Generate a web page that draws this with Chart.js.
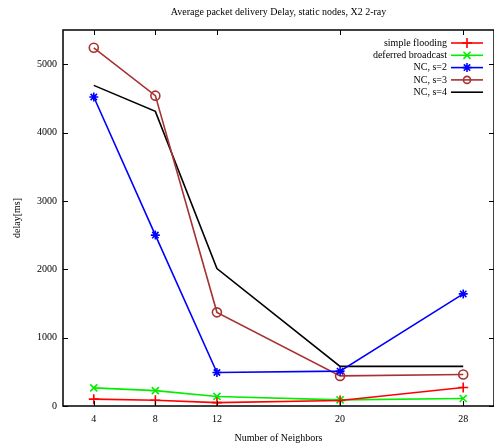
<!DOCTYPE html>
<html>
<head>
<meta charset="utf-8">
<script src="https://cdn.jsdelivr.net/npm/chart.js@4/dist/chart.umd.min.js"></script>
<style>
    html, body { margin: 0; padding: 0; background: #fff; }
    #wrap { width: 494px; height: 448px; }
</style>
</head>
<body>
<div id="wrap"><canvas id="delayChart" width="494" height="448"></canvas></div>
<script>
const neighbors = [4, 8, 12, 20, 28];
const xTicks = [4, 8, 12, 20, 28];
const yTicks = [0, 1000, 2000, 3000, 4000, 5000];

const simpleFlooding = [100, 85, 50, 80, 270];
const deferredBroadcast = [265, 225, 140, 90, 110];
const ncS2 = [4520, 2500, 490, 510, 1640];
const ncS3 = [5240, 4540, 1370, 440, 460];
const ncS4 = [4690, 4310, 2010, 580, 580];

const TITLE = 'Average packet delivery Delay, static nodes, X2 2-ray';
const FONT = "'Liberation Serif', 'DejaVu Serif', serif";

function pts(values) {
    return neighbors.map((x, i) => ({ x, y: values[i] }));
}

function series(label, values, color, pointStyle, radius) {
    return {
        label,
        data: pts(values),
        borderColor: color,
        backgroundColor: color,
        borderWidth: 1.6,
        pointStyle: pointStyle || false,
        pointRadius: radius || 0,
        pointBorderWidth: 1.6,
        pointBackgroundColor: 'rgba(0,0,0,0)',
        tension: 0
    };
}

// gnuplot-like frame with inward ticks on all four sides, title centred on the plot
const frameTicks = {
    id: 'frameTicks',
    afterDraw(chart) {
        const { ctx, chartArea: a, scales } = chart;
        ctx.save();
        ctx.fillStyle = '#000';
        ctx.font = '10px ' + FONT;
        ctx.textAlign = 'center';
        ctx.textBaseline = 'middle';
        ctx.fillText(TITLE, (a.left + a.right) / 2, 12);

        ctx.strokeStyle = '#000';
        ctx.lineWidth = 1.5;
        ctx.strokeRect(a.left, a.top, a.right - a.left, a.bottom - a.top);
        ctx.lineWidth = 1;
        const len = 5;
        ctx.beginPath();
        yTicks.forEach(v => {
            const y = Math.round(scales.y.getPixelForValue(v)) + 0.5;
            ctx.moveTo(a.left, y); ctx.lineTo(a.left + len, y);
            ctx.moveTo(a.right, y); ctx.lineTo(a.right - len, y);
        });
        xTicks.forEach(v => {
            const x = Math.round(scales.x.getPixelForValue(v)) + 0.5;
            ctx.moveTo(x, a.bottom); ctx.lineTo(x, a.bottom - len);
            ctx.moveTo(x, a.top); ctx.lineTo(x, a.top + len);
        });
        ctx.stroke();
        ctx.restore();
    }
};

// key drawn inside the top-right corner, text to the left of the sample
const insideKey = {
    id: 'insideKey',
    afterDraw(chart) {
        const { ctx } = chart;
        const textRight = 447;
        const lineL = 451, lineR = 483;
        const y0 = 43, dy = 12.3;
        ctx.save();
        ctx.font = '10px ' + FONT;
        ctx.textAlign = 'right';
        ctx.textBaseline = 'middle';
        chart.data.datasets.forEach((ds, i) => {
            const y = y0 + i * dy;
            ctx.fillStyle = '#000';
            ctx.fillText(ds.label, textRight, y);
            ctx.strokeStyle = ds.borderColor;
            ctx.lineWidth = ds.borderWidth;
            ctx.beginPath();
            ctx.moveTo(lineL, y); ctx.lineTo(lineR, y);
            ctx.stroke();
            if (ds.pointStyle) {
                ctx.fillStyle = 'rgba(0,0,0,0)';
                Chart.helpers.drawPoint(ctx, {
                    pointStyle: ds.pointStyle,
                    radius: ds.pointStyle === 'circle' ? 3.5 : ds.pointRadius,
                    borderWidth: ds.pointBorderWidth,
                    rotation: 0
                }, (lineL + lineR) / 2, y);
            }
        });
        ctx.restore();
    }
};

new Chart(document.getElementById('delayChart').getContext('2d'), {
    type: 'line',
    data: {
        datasets: [
            series('simple flooding', simpleFlooding, '#ff0000', 'cross', 5),
            series('deferred broadcast', deferredBroadcast, '#00ee00', 'crossRot', 5),
            series('NC, s=2', ncS2, '#0000ff', 'star', 4.5),
            series('NC, s=3', ncS3, '#a83232', 'circle', 4.5),
            series('NC, s=4', ncS4, '#000000', false, 0)
        ]
    },
    options: {
        responsive: false,
        animation: false,
        layout: { autoPadding: false, padding: { left: 4, right: 0, top: 30, bottom: 4 } },
        plugins: {
            legend: { display: false },
            tooltip: { enabled: false },
            title: { display: false }
        },
        scales: {
            x: {
                type: 'linear',
                min: 2,
                max: 30,
                afterBuildTicks: s => { s.ticks = xTicks.map(v => ({ value: v })); },
                afterFit: s => { s.height = 38; },
                grid: { display: false, drawTicks: false },
                border: { display: false },
                ticks: { color: '#000', font: { family: FONT, size: 10 }, padding: 7 },
                title: {
                    display: true,
                    text: 'Number of Neighbors',
                    color: '#000',
                    font: { family: FONT, size: 10 },
                    padding: { top: 6, bottom: 0 }
                }
            },
            y: {
                min: 0,
                max: 5500,
                afterBuildTicks: s => { s.ticks = yTicks.map(v => ({ value: v })); },
                afterFit: s => { s.width = 59; },
                grid: { display: false, drawTicks: false },
                border: { display: false },
                ticks: {
                    color: '#000',
                    font: { family: FONT, size: 10 },
                    padding: 6,
                    callback: v => String(v)
                },
                title: {
                    display: true,
                    text: 'delay[ms]',
                    color: '#000',
                    font: { family: FONT, size: 10 },
                    padding: { top: 7, bottom: 3 }
                }
            }
        }
    },
    plugins: [frameTicks, insideKey]
});
</script>
</body>
</html>
